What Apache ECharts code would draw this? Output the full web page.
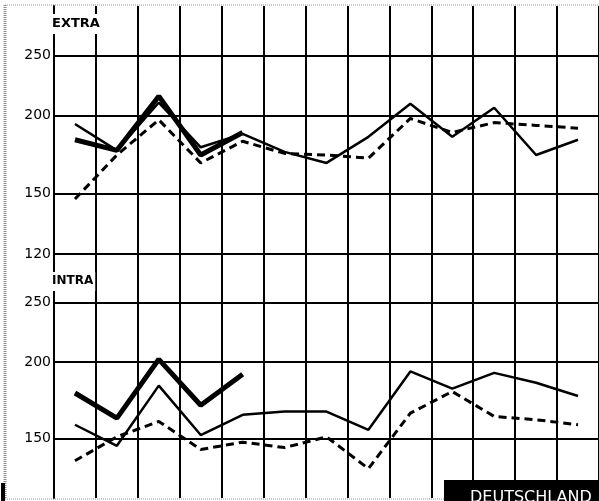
<!DOCTYPE html>
<html><head><meta charset="utf-8">
<script src="https://cdn.jsdelivr.net/npm/echarts@6/dist/echarts.min.js"></script>
<style>html,body{margin:0;padding:0;background:#fff}#c{width:599px;height:501px}</style>
</head><body><div id="c"></div>
<script>
const periods = ['1','2','3','4','5','6','7','8','9','10','11','12','13'];
const extraThin   = [194,176,210,178,187,175,168,185,209,185,206,173,183];
const extraThick  = [183,176,215,173,188];
const extraDashed = [147,173,197,168,182,174,173,171,198,188,195,193,191];
const intraThin   = [158,146,183,152,164,166,166,155,193,181,192,185,176];
const intraThick  = [178,162,202,170,191];
const intraDashed = [138,151,160,144,148,145,151,134,165,179,163,161,158];
const extraTicks = [120,150,200,250];
const intraTicks = [150,200,250];

const FONT = 'DejaVu Sans';
function mark(ticks){
  return {silent:true, symbol:['none','none'], animation:false,
    lineStyle:{color:'#000', width:2, type:'solid'},
    label:{show:true, position:'start', formatter:'{c}', color:'#000', fontSize:14, fontWeight:500, fontFamily:FONT, distance:3},
    emphasis:{disabled:true},
    data: ticks.map(v=>({yAxis:v}))};
}
function xAx(i, showLine){
  return {type:'category', gridIndex:i, data:periods, boundaryGap:true,
    axisLabel:{show:false}, axisTick:{show:false},
    axisLine:{show:showLine, lineStyle:{color:'#000', width:2}},
    splitLine:{show:true, interval:0, lineStyle:{color:'#000', width:2}}};
}
function yAx(i){
  return {type:'log', logBase:10, gridIndex:i, min:120, max:300,
    axisLabel:{show:false}, axisTick:{show:false}, splitLine:{show:false},
    axisLine:{show:true, lineStyle:{color:'#000', width:2}}};
}
function ser(i, data, w, dashed, mk){
  const s = {type:'line', xAxisIndex:i, yAxisIndex:i, data:data, symbol:'none', silent:true,
    lineStyle:{color:'#000', width:w, type: dashed ? [8,5] : 'solid'}};
  if (mk) s.markLine = mk;
  return s;
}
const chart = echarts.init(document.getElementById('c'));
chart.setOption({
  animation:false,
  backgroundColor:'#fff',
  title:[
    {text:'EXTRA', left:50, top:14, padding:[3,2,4,2], backgroundColor:'#fff',
     textStyle:{fontFamily:FONT, fontSize:13, fontWeight:'bold', color:'#000'}},
    {text:'INTRA', left:50, top:272, padding:[3,2,4,2], backgroundColor:'#fff',
     textStyle:{fontFamily:FONT, fontSize:12, fontWeight:'bold', color:'#000'}}
  ],
  grid:[
    {left:54, right:-5, top:6, height:248},
    {left:54, right:-5, top:254, height:244}
  ],
  xAxis:[xAx(0,true), xAx(1,false)],
  yAxis:[yAx(0), yAx(1)],
  series:[
    ser(0, extraThin, 2.5, false, mark(extraTicks)),
    ser(0, extraThick, 5, false),
    ser(0, extraDashed, 3, true),
    ser(1, intraThin, 2.5, false, mark(intraTicks)),
    ser(1, intraThick, 5, false),
    ser(1, intraDashed, 3, true)
  ],
  graphic:[
    {type:'line', shape:{x1:5, y1:5, x2:5, y2:499}, style:{stroke:'#8a8a8a', lineWidth:3, lineDash:[1,1]}},
    {type:'line', shape:{x1:5, y1:5, x2:599, y2:5}, style:{stroke:'#9a9a9a', lineWidth:1, lineDash:[1,1]}},
    {type:'line', shape:{x1:5, y1:499, x2:599, y2:499}, style:{stroke:'#9a9a9a', lineWidth:1, lineDash:[1,1]}},
    {type:'rect', shape:{x:1, y:483, width:4, height:18}, style:{fill:'#000'}},
    {type:'rect', z:100, shape:{x:444, y:480, width:160, height:22}, style:{fill:'#000'}},
    {type:'text', z:101, left:470, top:490, style:{text:'DEUTSCHLAND', fill:'#fff', font:'16px "DejaVu Sans"'}}
  ]
});
</script>
</body></html>
